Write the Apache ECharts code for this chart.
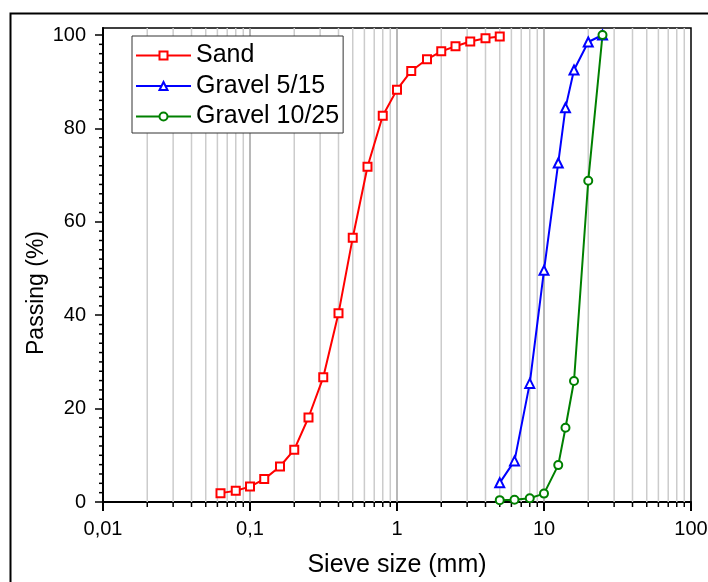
<!DOCTYPE html>
<html>
<head>
<meta charset="utf-8">
<script src="https://cdn.jsdelivr.net/npm/echarts@6/dist/echarts.min.js"></script>
<style>
html, body { margin: 0; padding: 0; background: #fff; }
#chart { width: 708px; height: 582px; }
</style>
</head>
<body>
<div id="chart"></div>
<script>
// sieve sizes (mm) and passing (%)
var sandSize = [0.063, 0.08, 0.1, 0.125, 0.16, 0.2, 0.25, 0.315, 0.4, 0.5, 0.63, 0.8, 1, 1.25, 1.6, 2, 2.5, 3.15, 4, 5];
var sandPassing = [1.9, 2.4, 3.3, 4.9, 7.6, 11.2, 18.1, 26.7, 40.4, 56.6, 71.8, 82.7, 88.3, 92.3, 94.8, 96.5, 97.6, 98.6, 99.3, 99.7];
var gravel515Size = [5, 6.3, 8, 10, 12.5, 14, 16, 20, 25];
var gravel515Passing = [4.1, 8.8, 25.4, 49.6, 72.6, 84.4, 92.5, 98.5, 100];
var gravel1025Size = [5, 6.3, 8, 10, 12.5, 14, 16, 20, 25];
var gravel1025Passing = [0.4, 0.5, 0.8, 1.8, 7.9, 15.9, 25.9, 68.8, 100];

var xTicks = [0.01, 0.1, 1, 10, 100];
var xTickLabels = ['0,01', '0,1', '1', '10', '100'];
var yTicks = [0, 20, 40, 60, 80, 100];
var xGridLines = [0.02, 0.03, 0.04, 0.05, 0.06, 0.07, 0.08, 0.09, 0.1,
                  0.2, 0.3, 0.4, 0.5, 0.6, 0.7, 0.8, 0.9, 1,
                  2, 3, 4, 5, 6, 7, 8, 9, 10,
                  20, 30, 40, 50, 60, 70, 80, 90];
var yMinorTicks = [2, 4, 6, 8, 10, 12, 14, 16, 18, 22, 24, 26, 28, 30, 32, 34, 36, 38,
                   42, 44, 46, 48, 50, 52, 54, 56, 58, 62, 64, 66, 68, 70, 72, 74, 76, 78,
                   82, 84, 86, 88, 90, 92, 94, 96, 98];

var yMax = 101.5;
var font = 'Liberation Sans, Arial, sans-serif';

function pairs(xs, ys) {
    return xs.map(function (x, i) { return [x, ys[i]]; });
}

// vertical grid lines + minor ticks under the x axis
function renderGridLine(params, api) {
    var x = api.value(0);
    var p0 = api.coord([x, 0]);
    var p1 = api.coord([x, yMax]);
    var major = xTicks.indexOf(x) >= 0;
    var children = [{
        type: 'line',
        shape: { x1: p0[0], y1: p0[1], x2: p1[0], y2: p1[1] },
        style: { stroke: major ? '#a0a0a0' : '#cccccc', lineWidth: 1.5 }
    }];
    if (!major) {
        children.push({
            type: 'line',
            shape: { x1: p0[0], y1: p0[1], x2: p0[0], y2: p0[1] + 5 },
            style: { stroke: '#000', lineWidth: 1.5 }
        });
    }
    return { type: 'group', children: children };
}

// minor ticks left of the y axis
function renderYMinor(params, api) {
    var p = api.coord([xTicks[0], api.value(1)]);
    return {
        type: 'line',
        shape: { x1: p[0] - 4, y1: p[1], x2: p[0], y2: p[1] },
        style: { stroke: '#000', lineWidth: 1.5 }
    };
}

var chart = echarts.init(document.getElementById('chart'));
var option = {
    animation: false,
    backgroundColor: '#fff',
    graphic: [{
        type: 'rect',
        left: 8, top: 11,
        shape: { width: 720, height: 620 },
        style: { fill: 'none', stroke: '#000', lineWidth: 2 },
        silent: true
    }],
    grid: {
        left: 103, right: 17, top: 28, bottom: 80,
        outerBoundsMode: 'none',
        show: true,
        borderColor: '#000',
        borderWidth: 1.5
    },
    legend: {
        data: ['Sand', 'Gravel 5/15', 'Gravel 10/25'],
        orient: 'vertical',
        left: 132, top: 36,
        padding: [7, 4, 4, 3],
        itemWidth: 55,
        itemHeight: 10,
        itemGap: 5.5,
        borderColor: '#333',
        borderWidth: 1,
        backgroundColor: '#fff',
        textStyle: { fontSize: 25, color: '#000', fontFamily: font }
    },
    xAxis: {
        type: 'log',
        logBase: 10,
        min: 0.01,
        max: 100,
        name: 'Sieve size (mm)',
        nameLocation: 'middle',
        nameMoveOverlap: false,
        nameGap: 51,
        nameTextStyle: { fontSize: 25, color: '#000', fontFamily: font },
        axisLine: { lineStyle: { color: '#000', width: 2 } },
        axisTick: { show: true, inside: false, length: 9, lineStyle: { color: '#000', width: 2 } },
        axisLabel: {
            fontSize: 20, color: '#000', fontFamily: font, margin: 17,
            formatter: function (v) {
                for (var i = 0; i < xTicks.length; i++) {
                    if (Math.abs(Math.log10(v) - Math.log10(xTicks[i])) < 1e-6) return xTickLabels[i];
                }
                return '';
            }
        },
        splitLine: { show: false }
    },
    yAxis: {
        type: 'value',
        min: 0,
        max: yMax,
        interval: 20,
        name: 'Passing (%)',
        nameLocation: 'middle',
        nameMoveOverlap: false,
        nameGap: 55,
        nameTextStyle: { fontSize: 23, color: '#000', fontFamily: font, padding: [0, 56, 0, 0] },
        axisLine: { show: true, lineStyle: { color: '#000', width: 2 } },
        axisTick: { show: true, inside: false, length: 8, customValues: yTicks, lineStyle: { color: '#000', width: 1.5 } },
        axisLabel: {
            fontSize: 20, color: '#000', fontFamily: font, margin: 17,
            customValues: yTicks,
            formatter: function (v) { return yTicks.indexOf(v) >= 0 ? String(v) : ''; }
        },
        splitLine: { show: false }
    },
    series: [
        {
            type: 'custom',
            name: 'gridLines',
            silent: true,
            clip: false,
            z: 1,
            renderItem: renderGridLine,
            data: xGridLines.map(function (v) { return [v, 0]; })
        },
        {
            type: 'custom',
            name: 'yMinor',
            silent: true,
            clip: false,
            z: 1,
            renderItem: renderYMinor,
            data: yMinorTicks.map(function (v) { return [xTicks[0], v]; })
        },
        {
            name: 'Sand',
            type: 'line',
            data: pairs(sandSize, sandPassing),
            symbol: 'emptyRect',
            symbolSize: 8,
            color: '#ff0000',
            lineStyle: { width: 2, color: '#ff0000' },
            itemStyle: { color: '#ff0000', borderWidth: 1.5 }
        },
        {
            name: 'Gravel 5/15',
            type: 'line',
            data: pairs(gravel515Size, gravel515Passing),
            symbol: 'emptyTriangle',
            symbolSize: 9,
            color: '#0000ff',
            lineStyle: { width: 2, color: '#0000ff' },
            itemStyle: { color: '#0000ff', borderWidth: 1.5 }
        },
        {
            name: 'Gravel 10/25',
            type: 'line',
            data: pairs(gravel1025Size, gravel1025Passing),
            symbol: 'emptyCircle',
            symbolSize: 8,
            color: '#008000',
            lineStyle: { width: 2, color: '#008000' },
            itemStyle: { color: '#008000', borderWidth: 1.5 }
        }
    ]
};
chart.setOption(option);
</script>
</body>
</html>
